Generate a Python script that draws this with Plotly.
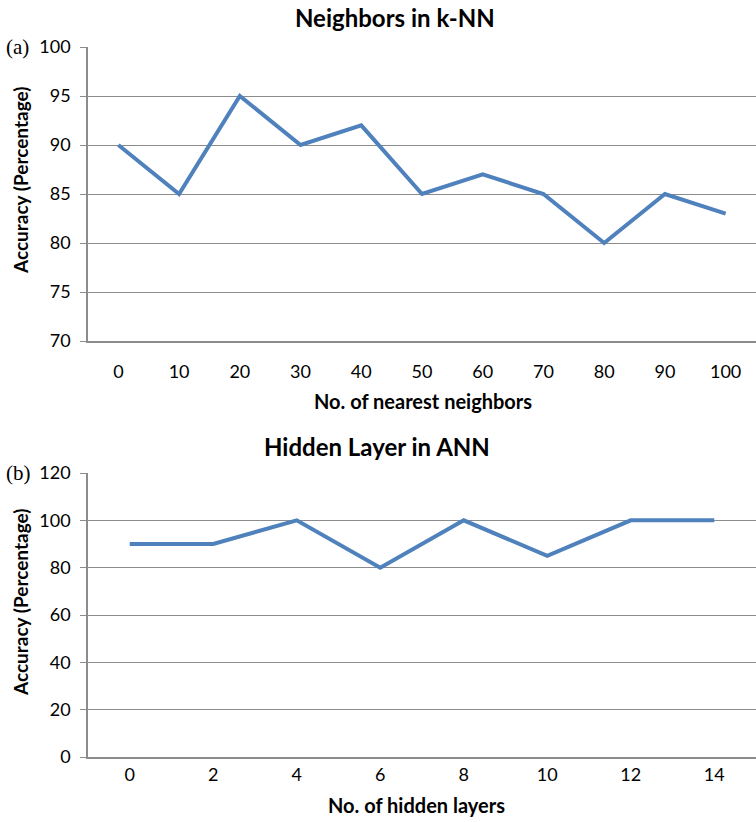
import plotly.graph_objects as go

# k-NN: accuracy versus number of nearest neighbors
knn_neighbors = ["0", "10", "20", "30", "40", "50", "60", "70", "80", "90", "100"]
knn_accuracy = [90, 85, 95, 90, 92, 85, 87, 85, 80, 85, 83]

# ANN: accuracy versus number of hidden layers
ann_layers = ["0", "2", "4", "6", "8", "10", "12", "14"]
ann_accuracy = [90, 90, 100, 80, 100, 85, 100, 100]

W, H = 756, 822
LINE = "#4F81BD"
GRID = "#8C8C8C"
SANS = "Lato, 'Open Sans', sans-serif"


def py(px):
    return 1 - px / H


fig = go.Figure()
fig.add_trace(go.Scatter(x=knn_neighbors, y=knn_accuracy, mode="lines",
                         line=dict(color=LINE, width=4), xaxis="x", yaxis="y"))
fig.add_trace(go.Scatter(x=ann_layers, y=ann_accuracy, mode="lines",
                         line=dict(color=LINE, width=4), xaxis="x2", yaxis="y2"))

xdom = [88 / W, 1.0]
common_x = dict(type="category", showgrid=False, showline=True, linecolor=GRID,
                linewidth=1.5, ticks="", tickfont=dict(family=SANS, size=18, color="#000"),
                zeroline=False, automargin=False)
common_y = dict(showgrid=True, gridcolor=GRID, gridwidth=1, showline=True, linecolor=GRID,
                linewidth=1.5, ticks="outside", ticklen=6, tickcolor=GRID,
                tickfont=dict(family=SANS, size=18, color="#000"), zeroline=False,
                ticklabelstandoff=6, automargin=False)

fig.update_layout(
    width=W, height=H, margin=dict(l=0, r=0, t=0, b=0, autoexpand=False),
    paper_bgcolor="white", plot_bgcolor="white", showlegend=False,
    xaxis=dict(domain=xdom, anchor="y", range=[-0.5, len(knn_neighbors) - 0.5],
               ticklabelstandoff=14, **common_x),
    yaxis=dict(domain=[py(341), py(47)], anchor="x", range=[70, 100], dtick=5, **common_y),
    xaxis2=dict(domain=xdom, anchor="y2", range=[-0.5, len(ann_layers) - 0.5],
                ticklabelstandoff=1, **common_x),
    yaxis2=dict(domain=[py(757), py(473)], anchor="x2", range=[0, 120], dtick=20, **common_y),
)

ann = [
    dict(text="<b>Neighbors in k-NN</b>", x=395 / W, y=py(17), size=24),
    dict(text="<b>Hidden Layer in ANN</b>", x=377 / W, y=py(447), size=24),
    dict(text="<b>No. of nearest neighbors</b>", x=423 / W, y=py(401), size=20),
    dict(text="<b>No. of hidden layers</b>", x=416 / W, y=py(805), size=20),
]
for a in ann:
    fig.add_annotation(text=a["text"], x=a["x"], y=a["y"], xref="paper", yref="paper",
                       showarrow=False, xanchor="center", yanchor="middle",
                       font=dict(family=SANS, size=a["size"], color="#000"))

for txt, yc in [("<b>Accuracy (Percentage)</b>", 181), ("<b>Accuracy (Percentage)</b>", 603)]:
    fig.add_annotation(text=txt, x=20 / W, y=py(yc), xref="paper", yref="paper",
                       showarrow=False, textangle=-90, xanchor="center", yanchor="middle",
                       font=dict(family=SANS, size=19, color="#000"))

for txt, yc in [("(a)", 47), ("(b)", 473)]:
    fig.add_annotation(text=txt, x=4 / W, y=py(yc), xref="paper", yref="paper",
                       showarrow=False, xanchor="left", yanchor="middle",
                       font=dict(family="'Liberation Serif', serif", size=21, color="#000"))

fig.write_html("out.html")
